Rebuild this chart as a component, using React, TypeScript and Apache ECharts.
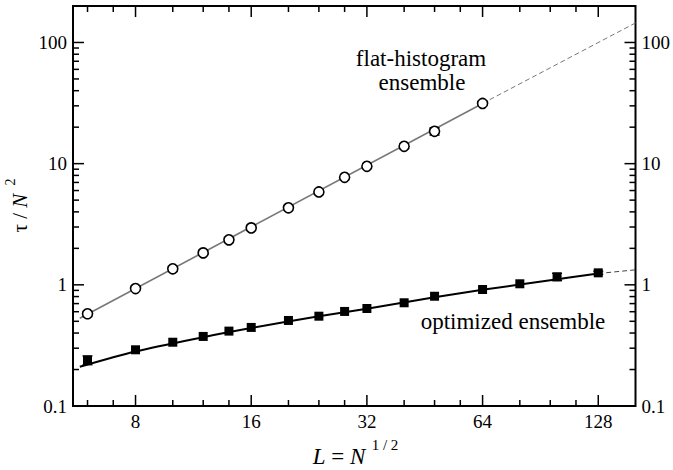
import React, { useEffect, useRef } from 'react';
import * as echarts from 'echarts';

const FONT = 'Liberation Serif, Times New Roman, Times, serif';

const X_MIN = 5.5;
const X_MAX = 160;
const Y_MIN = 0.1;
const Y_MAX = 200;

const xTickLabels = [8, 16, 32, 64, 128];
const xMinorTicks = [6, 7, 10, 12, 14, 20, 24, 28, 40, 48, 56, 80, 96, 112];
const yTickLabels = [0.1, 1, 10, 100];
const yMinorTicks = [
  0.2, 0.3, 0.4, 0.5, 0.6, 0.7, 0.8, 0.9,
  2, 3, 4, 5, 6, 7, 8, 9,
  20, 30, 40, 50, 60, 70, 80, 90,
];

// flat-histogram ensemble (open circles)
const flatL = [6, 8, 10, 12, 14, 16, 20, 24, 28, 32, 40, 48, 64];
const flatTau = [0.577, 0.932, 1.355, 1.835, 2.35, 2.95, 4.32, 5.84, 7.71, 9.5, 13.9, 18.5, 31.4];
const flatErr = [0, 0, 0, 0, 0, 0, 0, 0, 0, 0, 0.6, 1.3, 0.8];

// optimized ensemble (filled squares)
const optL = [6, 8, 10, 12, 14, 16, 20, 24, 28, 32, 40, 48, 64, 80, 100, 128];
const optTau = [0.239, 0.291, 0.336, 0.375, 0.415, 0.445, 0.508, 0.551, 0.603, 0.638, 0.711, 0.805, 0.915, 1.02, 1.164, 1.256];
const optErr = [0.02, 0, 0, 0, 0, 0, 0, 0, 0, 0, 0, 0, 0, 0, 0.08, 0.04];

// fit curves
const flatFitL = [5.73, 64];
const flatFitTau = [0.53, 31.4];
const flatExtL = [64, 160];
const flatExtTau = [31.4, 145];
const optFitL = [5.73, 8, 12, 16, 24, 32, 48, 64, 96, 128];
const optFitTau = [0.211, 0.282, 0.37, 0.44, 0.55, 0.635, 0.79, 0.91, 1.09, 1.24];
const optExtL = [128, 160];
const optExtTau = [1.24, 1.33];

const zip = (a: number[], b: number[]) => a.map((v, i) => [v, b[i]]);

const near = (v: number, list: number[]) => list.find((t) => Math.abs(v - t) / t < 1e-6);

export default function App() {
  const ref = useRef<HTMLDivElement>(null);

  useEffect(() => {
    document.body.style.margin = '0';
    if (!ref.current) return;
    const chart = echarts.init(ref.current, undefined, { renderer: 'svg' });

    const tickData: number[][] = [
      ...xTickLabels.map((v) => [v, 1, 0]),
      ...xMinorTicks.map((v) => [v, 1, 1]),
      ...yTickLabels.map((v) => [8, v, 2]),
      ...yMinorTicks.map((v) => [8, v, 3]),
    ];

    const errData = (L: number[], T: number[], E: number[]) =>
      L.map((v, i) => [v, T[i], E[i]]).filter((d) => d[2] > 0);

    const errRender = (params: any, api: any) => {
      const x = api.value(0);
      const y = api.value(1);
      const e = api.value(2);
      const top = api.coord([x, y + e]);
      const bot = api.coord([x, y - e]);
      const w = 5;
      const st = { stroke: '#000', lineWidth: 1.3 };
      return {
        type: 'group',
        children: [
          { type: 'line', shape: { x1: top[0], y1: top[1], x2: bot[0], y2: bot[1] }, style: st },
          { type: 'line', shape: { x1: top[0] - w, y1: top[1], x2: top[0] + w, y2: top[1] }, style: st },
          { type: 'line', shape: { x1: bot[0] - w, y1: bot[1], x2: bot[0] + w, y2: bot[1] }, style: st },
        ],
      };
    };

    const tickRender = (params: any, api: any) => {
      const kind = api.value(2);
      const len = kind === 0 || kind === 2 ? 11 : 6;
      const st = { stroke: '#000', lineWidth: 1.5 };
      if (kind === 0 || kind === 1) {
        const v = api.value(0);
        const b = api.coord([v, Y_MIN]);
        const t = api.coord([v, Y_MAX]);
        return {
          type: 'group',
          children: [
            { type: 'line', shape: { x1: b[0], y1: b[1], x2: b[0], y2: b[1] - len }, style: st },
            { type: 'line', shape: { x1: t[0], y1: t[1], x2: t[0], y2: t[1] + len }, style: st },
          ],
        };
      }
      const v = api.value(1);
      const l = api.coord([X_MIN, v]);
      const r = api.coord([X_MAX, v]);
      return {
        type: 'group',
        children: [
          { type: 'line', shape: { x1: l[0], y1: l[1], x2: l[0] + len, y2: l[1] }, style: st },
          { type: 'line', shape: { x1: r[0], y1: r[1], x2: r[0] - len, y2: r[1] }, style: st },
        ],
      };
    };

    const yAxisBase = {
      type: 'log',
      logBase: 10,
      min: Y_MIN,
      max: Y_MAX,
      axisLine: { show: false },
      axisTick: { show: false },
      splitLine: { show: false },
      minorTick: { show: false },
      axisLabel: {
        fontFamily: FONT,
        fontSize: 19,
        color: '#000',
        margin: 6,
        formatter: (v: number) => {
          const t = near(v, yTickLabels);
          return t !== undefined ? String(t) : '';
        },
      },
    };

    const richStyles = (size: number) => ({
      i: { fontFamily: FONT, fontSize: size, fontStyle: 'italic', fill: '#000', color: '#000' },
      u: { fontFamily: FONT, fontSize: size, fill: '#000', color: '#000' },
    });

    const txt = (text: string, x: number, y: number, size: number, extra: any = {}) => ({
      type: 'text',
      x,
      y,
      ...extra,
      style: {
        text,
        fontFamily: FONT,
        fontSize: size,
        fill: '#000',
        textAlign: 'center',
        textVerticalAlign: 'middle',
        rich: richStyles(size),
      },
    });

    chart.setOption({
      animation: false,
      backgroundColor: '#fff',
      textStyle: { fontFamily: FONT },
      grid: {
        left: 73,
        right: 36,
        top: 6,
        bottom: 64,
        show: true,
        borderColor: '#000',
        borderWidth: 2,
        backgroundColor: 'transparent',
      },
      xAxis: {
        type: 'log',
        logBase: 2,
        min: X_MIN,
        max: X_MAX,
        axisLine: { show: false },
        axisTick: { show: false },
        splitLine: { show: false },
        minorTick: { show: false },
        axisLabel: {
          fontFamily: FONT,
          fontSize: 19,
          color: '#000',
          margin: 6,
          formatter: (v: number) => {
            const t = near(v, xTickLabels);
            return t !== undefined ? String(t) : '';
          },
        },
      },
      yAxis: [
        { ...yAxisBase, position: 'left' },
        { ...yAxisBase, position: 'right' },
      ],
      series: [
        {
          type: 'line',
          data: zip(flatFitL, flatFitTau),
          symbol: 'none',
          lineStyle: { color: '#777', width: 1.6 },
          z: 2,
        },
        {
          type: 'line',
          data: zip(flatExtL, flatExtTau),
          symbol: 'none',
          lineStyle: { color: '#777', width: 1, type: [5, 3] },
          z: 2,
        },
        {
          type: 'line',
          data: zip(optFitL, optFitTau),
          symbol: 'none',
          smooth: 0.3,
          lineStyle: { color: '#000', width: 2 },
          z: 2,
        },
        {
          type: 'line',
          data: zip(optExtL, optExtTau),
          symbol: 'none',
          lineStyle: { color: '#444', width: 1, type: [5, 3] },
          z: 2,
        },
        {
          type: 'custom',
          renderItem: errRender,
          data: [...errData(flatL, flatTau, flatErr), ...errData(optL, optTau, optErr)],
          encode: { x: 0, y: 1 },
          clip: false,
          z: 3,
        },
        {
          type: 'scatter',
          data: zip(flatL, flatTau),
          symbol: 'circle',
          symbolSize: 10,
          itemStyle: { color: '#fff', borderColor: '#000', borderWidth: 1.6, opacity: 1 },
          z: 4,
        },
        {
          type: 'scatter',
          data: zip(optL, optTau),
          symbol: 'rect',
          symbolSize: 9,
          itemStyle: { color: '#000', opacity: 1 },
          z: 4,
        },
        {
          type: 'custom',
          renderItem: tickRender,
          data: tickData,
          encode: { x: 0, y: 1 },
          clip: false,
          silent: true,
          z: 5,
        },
      ],
      graphic: [
        txt('{u|flat-histogram}', 421, 58, 23),
        txt('{u|ensemble}', 422, 82, 23),
        txt('{u|optimized ensemble}', 513, 321, 23),
        txt('{i|L}{u| = }{i|N}', 339, 456, 23),
        txt('{u|1 / 2}', 385, 445, 15),
        txt('{u|τ / }{i|N}', 20, 213, 21, { rotation: Math.PI / 2 }),
        txt('{u|2}', 10, 182, 14, { rotation: Math.PI / 2 }),
      ],
    });

    return () => chart.dispose();
  }, []);

  return <div ref={ref} style={{ width: 673, height: 470 }} />;
}
